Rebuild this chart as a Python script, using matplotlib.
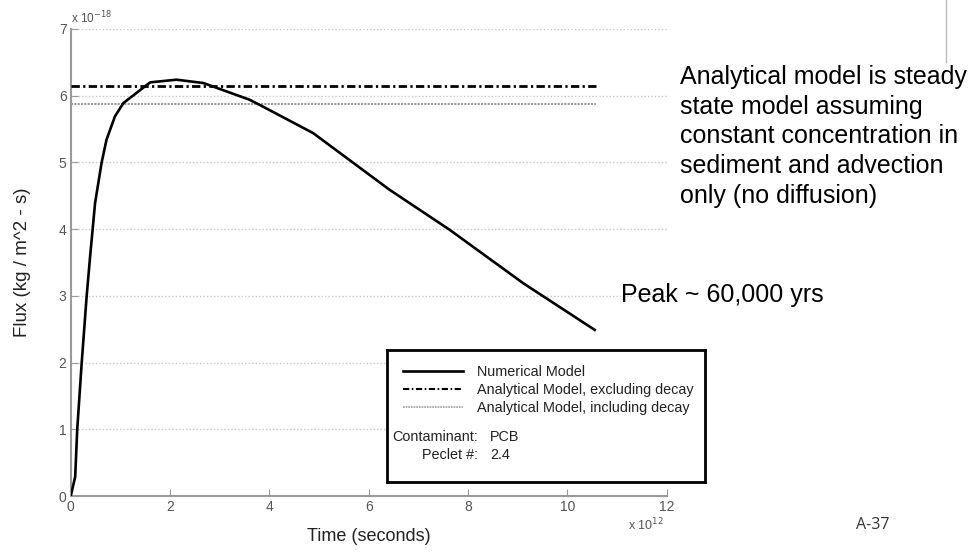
import matplotlib.pyplot as plt
from matplotlib.lines import Line2D

plt.rcParams['font.family'] = ['Liberation Sans', 'DejaVu Sans']

# time in units of 1e12 s, flux in units of 1e-18 kg/m^2-s
time_e12 = [0.0, 0.09, 0.13, 0.22, 0.32, 0.39, 0.49, 0.62, 0.72, 0.89, 1.06,
            1.6, 2.13, 2.67, 3.6, 3.81, 4.88, 6.42, 7.63, 9.11, 10.55]
flux_e18 = [0.0, 0.29, 0.99, 1.99, 2.99, 3.59, 4.39, 4.99, 5.34, 5.69, 5.89,
            6.2, 6.24, 6.19, 5.94, 5.86, 5.44, 4.59, 3.99, 3.19, 2.49]

excl_decay = 6.15
incl_decay = 5.87
line_end = 10.58

xticks = [0, 2, 4, 6, 8, 10, 12]
yticks = [0, 1, 2, 3, 4, 5, 6, 7]

dashdot = (0, (3, 1.2, 0.8, 1.2))
dots = (0, (1, 0.6))

fig = plt.figure(figsize=(9.77, 5.52), dpi=100)
ax = fig.add_axes([0.0724, 0.1014, 0.6100, 0.8461])

ax.plot(time_e12, flux_e18, color='black', lw=1.9, zorder=4)
ax.plot([0, line_end], [excl_decay, excl_decay], color='black', lw=2,
        linestyle=dashdot, zorder=3)
ax.plot([0, line_end], [incl_decay, incl_decay], color='#9a9a9a', lw=1.5,
        linestyle=dots, zorder=3)

ax.set_xlim(0, 12)
ax.set_ylim(0, 7)
ax.set_xticks(xticks)
ax.set_yticks(yticks)
ax.yaxis.grid(True, linestyle=(0, (1, 1.5)), color='#c8c8c8', lw=1)
ax.set_axisbelow(True)
for s in ['top', 'right']:
    ax.spines[s].set_visible(False)
for s in ['left', 'bottom']:
    ax.spines[s].set_color('#9a9a9a')
    ax.spines[s].set_linewidth(1.5)
ax.tick_params(direction='in', length=5, color='#9a9a9a', labelcolor='#555555',
               labelsize=10, pad=3)

ax.set_xlabel('Time (seconds)', fontsize=13, color='#222222', labelpad=10)
ax.set_ylabel('Flux (kg / m^2 - s)', fontsize=13.5, color='#222222', labelpad=20)

ax.text(0.0, 1.005, r'x 10$^{-18}$', transform=ax.transAxes, fontsize=8.5,
        color='#555555', va='bottom', ha='left')
ax.text(0.995, -0.062, r'x 10$^{12}$', transform=ax.transAxes, fontsize=9,
        color='#555555', va='center', ha='right')

# legend box
handles = [Line2D([], [], color='black', lw=1.9),
           Line2D([], [], color='black', lw=1.5, linestyle=dashdot),
           Line2D([], [], color='#9a9a9a', lw=1.2, linestyle=dots)]
labels = ['Numerical Model', 'Analytical Model, excluding decay',
          'Analytical Model, including decay']
leg_ax = fig.add_axes([386.7 / 977, 1 - 481.7 / 552, (705 - 386.7) / 977, (481.7 - 350) / 552])
leg_ax.set_xticks([])
leg_ax.set_yticks([])
for s in leg_ax.spines.values():
    s.set_linewidth(2)
    s.set_color('black')
leg = leg_ax.legend(handles, labels, loc='upper left', bbox_to_anchor=(0.05, 0.885),
                    frameon=False, fontsize=10.4, handlelength=4.15, handletextpad=1.0,
                    labelspacing=0.28, borderpad=0, borderaxespad=0)
for t in leg.get_texts():
    t.set_color('#222222')
for txt, x, y, ha in [('Contaminant:', 0.287, 0.342, 'right'), ('PCB', 0.324, 0.342, 'left'),
                      ('Peclet #:', 0.287, 0.203, 'right'), ('2.4', 0.324, 0.203, 'left')]:
    leg_ax.text(x, y, txt, ha=ha, va='center', fontsize=10.4, color='#222222')

fig.text(680 / 977, 1 - 65 / 552,
         'Analytical model is steady\nstate model assuming\nconstant concentration in\nsediment and advection\nonly (no diffusion)',
         ha='left', va='top', fontsize=18, linespacing=1.3, color='black')
fig.text(621 / 977, 1 - 295 / 552, 'Peak ~ 60,000 yrs', ha='left', va='center',
         fontsize=18, color='black')
fig.text(873 / 977, 1 - 525 / 552, 'A-37', ha='center', va='center',
         fontsize=11.5, family=['Open Sans', 'DejaVu Sans'], color='#333333')
fig.add_artist(Line2D([946 / 977, 946 / 977], [1, 1 - 62 / 552], color='#bbbbbb', lw=1))

fig.savefig('out.png', dpi=100)
